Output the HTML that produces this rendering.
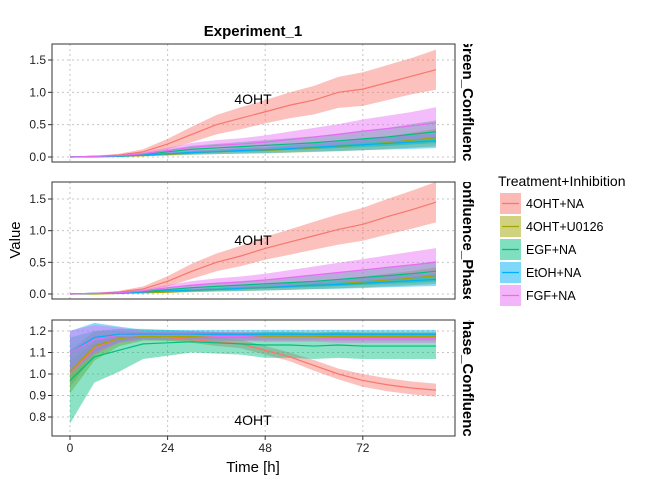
<!DOCTYPE html>
<html><head><meta charset="utf-8"><style>
body{margin:0;background:#fff;}
svg{font-family:"Liberation Sans",sans-serif;}
</style></head><body>
<svg id="chart" width="672" height="480" viewBox="0 0 672 480" xmlns="http://www.w3.org/2000/svg">
<text x="253" y="36" text-anchor="middle" font-size="15" font-weight="bold">Experiment_1</text>
<text transform="translate(20,240) rotate(-90)" text-anchor="middle" font-size="15">Value</text>
<text x="253" y="472" text-anchor="middle" font-size="15">Time [h]</text>
<g id="panels"></g>
<g id="legend"></g>
</svg>
<script>
const times=[0,6,12,18,24,30,36,42,48,54,60,66,72,78,84,90];
const seriesNames=["4OHT+NA","4OHT+U0126","EGF+NA","EtOH+NA","FGF+NA"];
const colors=["#F8766D","#A3A500","#00BF7D","#00B0F6","#E76BF3"];
const xTicks=[0,24,48,72];
// Panel 1 means & half-widths
const p1_4OHT=[0,0.01,0.03,0.08,0.2,0.35,0.5,0.6,0.7,0.8,0.88,1.0,1.05,1.15,1.25,1.35];
const p1_4OHT_sd=[0,0.01,0.02,0.04,0.08,0.12,0.15,0.17,0.18,0.2,0.22,0.24,0.26,0.27,0.28,0.31];
const p1_U0126=[0,0,0.01,0.02,0.04,0.06,0.08,0.09,0.1,0.12,0.14,0.16,0.19,0.22,0.26,0.3];
const p1_EGF=[0,0.01,0.02,0.04,0.08,0.12,0.14,0.16,0.18,0.2,0.22,0.25,0.28,0.31,0.35,0.39];
const p1_EtOH=[0,0.01,0.01,0.03,0.05,0.07,0.08,0.1,0.11,0.13,0.15,0.17,0.19,0.21,0.23,0.25];
const p1_FGF=[0,0.01,0.02,0.05,0.1,0.15,0.18,0.2,0.23,0.27,0.31,0.35,0.4,0.44,0.48,0.53];
// Panel 2
const p2_4OHT=[0,0.01,0.03,0.08,0.2,0.36,0.5,0.6,0.72,0.82,0.92,1.02,1.1,1.22,1.33,1.45];
const p2_4OHT_sd=[0,0.01,0.02,0.04,0.08,0.12,0.14,0.16,0.18,0.2,0.22,0.24,0.26,0.28,0.3,0.32];
const p2_U0126=[0,0,0.01,0.02,0.03,0.05,0.07,0.08,0.1,0.12,0.14,0.16,0.19,0.22,0.25,0.29];
const p2_EGF=[0,0.01,0.02,0.04,0.07,0.1,0.12,0.14,0.16,0.18,0.2,0.23,0.26,0.29,0.32,0.36];
const p2_EtOH=[0,0.01,0.01,0.03,0.05,0.06,0.07,0.09,0.1,0.12,0.14,0.15,0.17,0.19,0.21,0.23];
const p2_FGF=[0,0.01,0.02,0.05,0.1,0.14,0.17,0.19,0.22,0.26,0.3,0.34,0.38,0.42,0.46,0.5];
// Panel 3
const p3_4OHT=[1.0,1.12,1.165,1.175,1.17,1.16,1.15,1.14,1.11,1.08,1.04,1.0,0.97,0.95,0.935,0.925];
const p3_4OHT_sd=[0.06,0.03,0.02,0.015,0.015,0.015,0.02,0.02,0.02,0.02,0.025,0.025,0.03,0.03,0.03,0.03];
const p3_U0126=[1.01,1.13,1.165,1.175,1.175,1.175,1.175,1.175,1.175,1.175,1.175,1.175,1.175,1.175,1.175,1.175];
const p3_EGF=[0.97,1.08,1.11,1.14,1.145,1.15,1.145,1.14,1.135,1.135,1.13,1.135,1.13,1.13,1.13,1.13];
const p3_EGF_sd=[0.2,0.12,0.1,0.07,0.06,0.05,0.05,0.05,0.06,0.06,0.06,0.06,0.06,0.06,0.06,0.06];
const p3_EtOH=[1.1,1.17,1.185,1.185,1.185,1.185,1.185,1.185,1.185,1.185,1.185,1.185,1.185,1.185,1.185,1.185];
const p3_FGF=[1.1,1.16,1.18,1.18,1.18,1.18,1.175,1.175,1.17,1.17,1.17,1.165,1.165,1.165,1.165,1.165];
const p1Ticks=[0,0.5,1.0,1.5], p1Labels=["0.0","0.5","1.0","1.5"];
const p3Ticks=[0.8,0.9,1.0,1.1,1.2], p3Labels=["0.8","0.9","1.0","1.1","1.2"];

const NS="http://www.w3.org/2000/svg";
function mk(tag,attrs,parent){const e=document.createElementNS(NS,tag);for(const k in attrs)e.setAttribute(k,attrs[k]);parent.appendChild(e);return e;}
const X0=52,X1=455;
function xs(t){return 70+(t/90)*(436-70);}
const panels=[
 {top:44,bot:162,y0:157,v0:0,v1:1.5,v1y:60,ticks:p1Ticks,labels:p1Labels,strip:"Green_Confluence",lab:104,
  s:[[p1_4OHT,p1_4OHT_sd],[p1_U0126,null],[p1_EGF,null],[p1_EtOH,null],[p1_FGF,null]]},
 {top:182,bot:299,y0:294,v0:0,v1:1.5,v1y:199,ticks:p1Ticks,labels:p1Labels,strip:"Confluence_Phase_",lab:245,
  s:[[p2_4OHT,p2_4OHT_sd],[p2_U0126,null],[p2_EGF,null],[p2_EtOH,null],[p2_FGF,null]]},
 {top:320,bot:436,y0:417,v0:0.8,v1:1.2,v1y:331,ticks:p3Ticks,labels:p3Labels,strip:"Phase_Confluence",lab:425,
  s:[[p3_4OHT,p3_4OHT_sd],[p3_U0126,null],[p3_EGF,p3_EGF_sd],[p3_EtOH,null],[p3_FGF,null]]}
];
const G=document.getElementById('panels');
panels.forEach((p,i)=>{
 const g=mk('g',{},G);
 
 
 const ys=v=>p.y0+(v-p.v0)/(p.v1-p.v0)*(p.v1y-p.y0);
 const dcp=mk('clipPath',{id:'dcp'+i},g);mk('rect',{x:X0,y:p.top,width:X1-X0,height:p.bot-p.top},dcp);
 p.ticks.forEach((t,j)=>{
  mk('line',{x1:X0,x2:X1,y1:ys(t),y2:ys(t),stroke:'#c4c4c4','stroke-dasharray':'2,3','stroke-width':1},g);
  mk('line',{x1:X0-4,x2:X0,y1:ys(t),y2:ys(t),stroke:'#333'},g);
  const tx=mk('text',{x:X0-6,y:ys(t)+4,'text-anchor':'end','font-size':12,fill:'#222'},g);tx.textContent=p.labels[j];
  
  
 });
 xTicks.forEach(t=>{mk('line',{x1:xs(t),x2:xs(t),y1:p.top,y2:p.bot,stroke:'#c4c4c4','stroke-dasharray':'2,3'},g);});
 const dg=mk('g',{'clip-path':'url(#dcp'+i+')'},g);
 p.s.forEach((sr,k)=>{
  const m=sr[0];const sd=sr[1]||m.map((v,j)=>i===2?0.02+0.08*Math.max(0,1-times[j]/15):v*0.45);
  let up=times.map((t,j)=>xs(t)+','+ys(m[j]+sd[j])).join(' ');
  let dn=times.slice().reverse().map((t,jj)=>{const j=times.length-1-jj;return xs(t)+','+ys(m[j]-sd[j]);}).join(' ');
  const band=mk('polygon',{points:up+' '+dn,fill:colors[k],'fill-opacity':0.45,stroke:'none'},dg);
  
  
 });
 p.s.forEach((sr,k)=>{
  const m=sr[0];
  const ln=mk('polyline',{points:times.map((t,j)=>xs(t)+','+ys(m[j])).join(' '),fill:'none',stroke:colors[k],'stroke-width':1.2},dg);
  
  
 });
 const lt=mk('text',{x:253,y:p.lab,'text-anchor':'middle','font-size':14},g);lt.textContent='4OHT';
 
 
 mk('rect',{x:X0,y:p.top,width:X1-X0,height:p.bot-p.top,fill:'none',stroke:'#333','stroke-width':1},g);
 const cp=mk('clipPath',{id:'cp'+i},g);mk('rect',{x:456,y:p.top,width:30,height:p.bot-p.top},cp);
 const sg=mk('g',{'clip-path':'url(#cp'+i+')'},g);
 const st=mk('text',{transform:'translate(463,'+((p.top+p.bot)/2)+') rotate(90)','text-anchor':'middle','font-size':15,'font-weight':'bold'},sg);
 st.textContent=p.strip;
 
 
 if(i===2){xTicks.forEach(t=>{mk('line',{x1:xs(t),x2:xs(t),y1:p.bot,y2:p.bot+4,stroke:'#333'},g);
  const xt=mk('text',{x:xs(t),y:p.bot+16,'text-anchor':'middle','font-size':12,fill:'#222'},g);xt.textContent=t;
  
  });}
});
const L=document.getElementById('legend');
const lt=mk('text',{x:498,y:186,'font-size':14},L);lt.textContent='Treatment+Inhibition';
seriesNames.forEach((n,k)=>{
 const y=193+k*23;
 const e=mk('g',{},L);
 
 
 mk('rect',{x:500,y:y,width:21,height:21,fill:colors[k],'fill-opacity':0.5},e);
 mk('line',{x1:502,x2:519,y1:y+10.5,y2:y+10.5,stroke:colors[k],'stroke-width':1.2},e);
 const t=mk('text',{x:526,y:y+15,'font-size':12.5},e);t.textContent=n;
});
</script>
</body></html>
